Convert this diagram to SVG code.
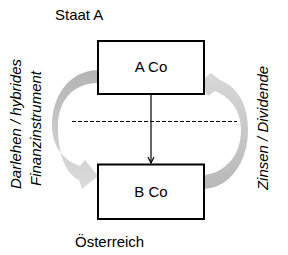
<svg xmlns="http://www.w3.org/2000/svg" width="288" height="255" viewBox="0 0 288 255">
<style>
.t{font-family:"Liberation Sans",Arial,sans-serif;font-size:15px;fill:#000}
.i{font-style:italic}
.box{fill:#fff;stroke:#000;stroke-width:2}
</style>
<defs>
<linearGradient id="gl" x1="0" y1="0" x2="0" y2="1">
<stop offset="0" stop-color="#b4b4b4"/>
<stop offset="1" stop-color="#dcdcdc"/>
</linearGradient>
<linearGradient id="gr" x1="0" y1="1" x2="0" y2="0">
<stop offset="0" stop-color="#b8b8b8"/>
<stop offset="1" stop-color="#d8d8d8"/>
</linearGradient>
<marker id="ah" viewBox="0 0 8 8" refX="7" refY="4" markerWidth="8" markerHeight="8" markerUnits="userSpaceOnUse" orient="auto">
<path d="M1,1 L7,4 L1,7" fill="none" stroke="#000" stroke-width="1.2"/>
</marker>
</defs>
<rect width="288" height="255" fill="#fff"/>
<g id="arrows">
<path id="arrow-left" d="M97,70 C70,71 52,95 52,125 C52,145 62,160 80,166 L85,160 L98,176 L82,189 L79,180 C65,174 58,152 58,127 C58,100 73,84 97,83 Z" fill="url(#gl)"/>
<path id="arrow-right" d="M205,175 C226,172 241,155 241,130 C241,112 232,98 215,91 L208,96 L200,82 L211,73 L220,80 C238,87 248,105 248,130 C248,162 230,187 205,189 Z" fill="url(#gr)"/>
</g>
<g id="connectors">
<line x1="72" y1="121.5" x2="237" y2="121.5" stroke="#000" stroke-width="1" stroke-dasharray="4,2"/>
<line x1="151" y1="94" x2="151" y2="163" stroke="#000" stroke-width="1.2" marker-end="url(#ah)"/>
</g>
<g id="node-a">
<rect class="box" x="98" y="41" width="106" height="53"/>
<text class="t" x="151" y="72" text-anchor="middle">A Co</text>
</g>
<g id="node-b">
<rect class="box" x="98" y="164.5" width="106" height="54.5"/>
<text class="t" x="151" y="197" text-anchor="middle">B Co</text>
</g>
<g id="labels">
<text class="t" x="55" y="19.5">Staat A</text>
<text class="t" x="75" y="247">Österreich</text>
<text class="t i" transform="translate(20.5,124) rotate(-90)" text-anchor="middle">Darlehen / hybrides</text>
<text class="t i" transform="translate(40.5,128.5) rotate(-90)" text-anchor="middle">Finanzinstrument</text>
<text class="t i" transform="translate(267.5,128) rotate(-90)" text-anchor="middle">Zinsen / Dividende</text>
</g>
</svg>
